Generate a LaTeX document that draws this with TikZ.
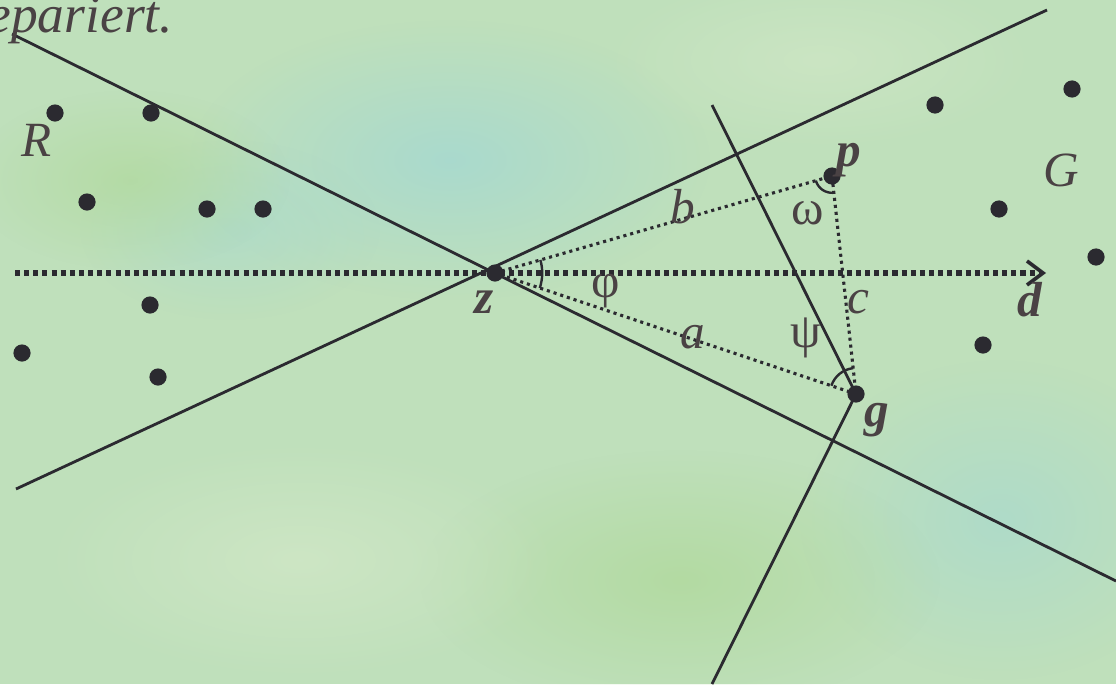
\documentclass[tikz,border=0pt]{standalone}
\usepackage{fontspec}
\setmainfont{Liberation Serif}
\usetikzlibrary{arrows.meta, angles, fadings}

\definecolor{ink}{HTML}{2B2A30}
\definecolor{txt}{HTML}{4A4244}
\definecolor{paper}{HTML}{BFE0BB}
\definecolor{aqua}{HTML}{A4D8D2}
\definecolor{moss}{HTML}{B0D99C}
\definecolor{cream}{HTML}{D3E8C8}

\tikzfading[name=blob, inner color=transparent!0, outer color=transparent!100]

\begin{document}
\begin{tikzpicture}[x=0.025cm, y=-0.025cm, >={Straight Barb[length=4mm, width=6mm, line width=2.6pt]},
  every node/.style={font=\fontsize{35}{40}\selectfont, text=txt},
  spot/.style={circle, fill=ink, inner sep=0pt, minimum size=4.3mm},
  ray/.style={ink, line width=2pt},
  thindots/.style={ink, line width=2.2pt, dash pattern=on 2.2pt off 2.8pt},
  axis/.style={ink, line width=3.6pt, dash pattern=on 3.6pt off 2.9pt, ->},
  arc/.style={draw=ink, line width=1.7pt},
  lbl/.style={font=\fontsize{35}{40}\selectfont\itshape},
  vec/.style={font=\fontsize{35}{40}\selectfont\bfseries\itshape}]
  \useasboundingbox (0,0) rectangle (1116,684);
  % background
  \fill[paper] (0,0) rectangle (1116,684);
  \fill[aqua, path fading=blob, opacity=.8] (450,160) ellipse (260 and 140);
  \fill[aqua, path fading=blob, opacity=.6] (1000,520) ellipse (200 and 160);
  \fill[aqua, path fading=blob, opacity=.5] (230,230) ellipse (150 and 90);
  \fill[moss, path fading=blob, opacity=.8] (680,580) ellipse (260 and 130);
  \fill[moss, path fading=blob, opacity=.7] (130,180) ellipse (160 and 90);
  \fill[cream, path fading=blob, opacity=.7] (300,560) ellipse (260 and 120);
  \fill[cream, path fading=blob, opacity=.6] (820,60) ellipse (220 and 90);

  % points
  \node[spot] (z) at (495,273) {};
  \node[spot] (p) at (832,176) {};
  \node[spot] (g) at (856,394) {};

  % set R
  \node[spot] (r1) at (55,113) {};
  \node[spot] (r2) at (151,113) {};
  \node[spot] (r3) at (87,202) {};
  \node[spot] (r4) at (207,209) {};
  \node[spot] (r5) at (263,209) {};
  \node[spot] (r6) at (150,305) {};
  \node[spot] (r7) at (22,353) {};
  \node[spot] (r8) at (158,377) {};
  % set G
  \node[spot] (g1) at (935,105) {};
  \node[spot] (g2) at (1072,89) {};
  \node[spot] (g3) at (999,209) {};
  \node[spot] (g4) at (1096,257) {};
  \node[spot] (g5) at (983,345) {};

  % lines
  \coordinate (l1a) at (12,34);
  \coordinate (l1b) at (1116,581);
  \coordinate (l2a) at (16,489);
  \coordinate (l2b) at (1047,10);
  \coordinate (l3a) at (712,105);
  \coordinate (l3b) at (712,684);
  \coordinate (ax0) at (15,273);
  \coordinate (ax1) at (1046,273);
  \draw[ray] (l1a) -- (l1b);
  \draw[ray] (l2a) -- (l2b);
  \draw[ray] (l3a) -- (g.center) -- (l3b);
  \draw[axis] (ax0) -- (ax1);
  \draw[thindots] (z.center) -- (p.center) -- (g.center) -- cycle;

  % angles
  \pic[arc, angle radius=1.18cm] {angle = g--z--p};
  \pic[arc, angle radius=0.42cm] {angle = z--p--g};
  \pic[arc, angle radius=0.65cm] {angle = p--g--z};

  % labels
  \node[lbl, font=\fontsize{38}{40}\selectfont\itshape, anchor=base east] (title) at (178,32) {epariert.};
  \node[lbl] (lR) at (37,140) {R};
  \node[lbl] (lG) at (1061,170) {G};
  \node[vec] (lz) at (484,302) {z};
  \node[vec] (lp) at (849,160) {p};
  \node[vec] (lg) at (877,420) {g};
  \node[vec] (ld) at (1030,300) {d};
  \node[lbl] (la) at (693,337) {a};
  \node[lbl] (lb) at (683,207) {b};
  \node[lbl] (lc) at (858,302) {c};
  \node (phi) at (606,291) {φ};
  \node (omega) at (808,213) {ω};
  \node (psi) at (806,338) {ψ};
\end{tikzpicture}
\end{document}
